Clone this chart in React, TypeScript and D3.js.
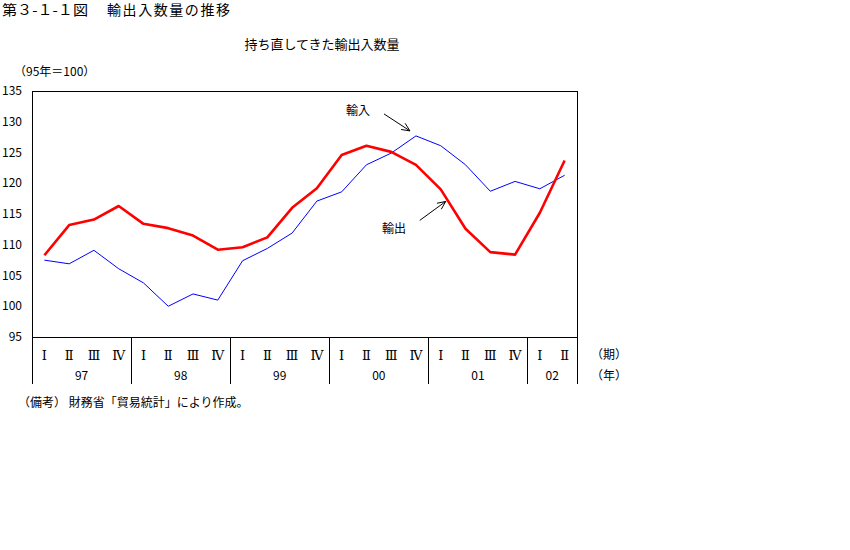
import React from 'react';
import * as d3 from 'd3';

const quarterNames = ['Ⅰ', 'Ⅱ', 'Ⅲ', 'Ⅳ'];
const years = ['97', '98', '99', '00', '01', '02'];
const quartersPerYear = [4, 4, 4, 4, 4, 2];
const exportsVol = [108.3, 113.2, 114.1, 116.3, 113.4, 112.7, 111.5, 109.2, 109.6, 111.2, 116.0, 119.2, 124.6, 126.1, 125.1, 123.0, 119.0, 112.6, 108.8, 108.4, 115.2, 123.7];
const importsVol = [107.5, 106.9, 109.1, 106.1, 103.8, 100.0, 102.0, 101.0, 107.4, 109.4, 111.9, 117.1, 118.6, 123.0, 124.9, 127.7, 126.1, 123.0, 118.7, 120.3, 119.1, 121.3];
const yTicks = [95, 100, 105, 110, 115, 120, 125, 130, 135];

const periods: { key: string; year: string; q: string }[] = [];
years.forEach((y, i) => {
  for (let k = 0; k < quartersPerYear[i]; k++) periods.push({ key: `${y}-${k}`, year: y, q: quarterNames[k] });
});

const FONT = '"Noto Sans CJK JP", sans-serif';

export default function App() {
  const left = 32, right = 577, top = 91, bottom = 337, tableBottom = 384;
  const x = d3.scaleBand<string>().domain(periods.map(p => p.key)).range([left, right]).paddingInner(0).paddingOuter(0);
  const y = d3.scaleLinear().domain([95, 135]).range([bottom, top]);
  const cx = (i: number) => (x(periods[i].key) as number) + x.bandwidth() / 2;
  const line = d3.line<number>().x((_, i) => cx(i)).y(d => y(d));

  const bounds: number[] = [left];
  let idx = 0;
  quartersPerYear.forEach(n => { idx += n; bounds.push(idx < periods.length ? (x(periods[idx].key) as number) : right); });

  const impPeak = 15;
  const expPt = 16;
  const arrow = (x1: number, y1: number, x2: number, y2: number) => {
    const a = Math.atan2(y2 - y1, x2 - x1);
    const L = 9, s = 0.42;
    const p1 = [x2 - L * Math.cos(a - s), y2 - L * Math.sin(a - s)];
    const p2 = [x2 - L * Math.cos(a + s), y2 - L * Math.sin(a + s)];
    return `M${x1},${y1}L${x2},${y2}M${p1[0]},${p1[1]}L${x2},${y2}L${p2[0]},${p2[1]}`;
  };
  const ia = { x2: cx(impPeak) - 6, y2: y(importsVol[impPeak]) - 5 };
  const ea = { x2: cx(expPt) + 5, y2: y(exportsVol[expPt]) + 12 };

  return (
    <svg width={850} height={550} style={{ display: 'block', position: 'absolute', left: 0, top: 0 }} fontFamily={FONT}>
      <rect width={850} height={550} fill="#fff" />
      <text x={2} y={15} fontSize={14} textLength={86} lengthAdjust="spacingAndGlyphs">第３-１-１図</text>
      <text x={107} y={15} fontSize={14} textLength={123} lengthAdjust="spacing">輸出入数量の推移</text>
      <text x={322} y={49} fontSize={13} textAnchor="middle">持ち直してきた輸出入数量</text>
      <text x={14} y={76} fontSize={12}>（95年＝100）</text>

      {yTicks.map(t => (
        <text key={t} x={22} y={y(t)} dy="0.35em" fontSize={12} textAnchor="end">{t}</text>
      ))}

      <g fill="none" stroke="#000" strokeWidth={1} shapeRendering="crispEdges">
        <rect x={left} y={top} width={right - left} height={bottom - top} />
        {bounds.map((b, i) => (
          <line key={i} x1={b} x2={b} y1={bottom} y2={tableBottom} />
        ))}
      </g>

      {periods.map((p, i) => (
        <text key={p.key} x={cx(i)} y={355} dy="0.35em" fontSize={13} textAnchor="middle" fontFamily='"DejaVu Serif", serif'>{p.q}</text>
      ))}
      {years.map((yr, i) => (
        <text key={yr} x={(bounds[i] + bounds[i + 1]) / 2} y={376} dy="0.35em" fontSize={12} textAnchor="middle">{yr}</text>
      ))}
      <text x={591} y={355} dy="0.35em" fontSize={12}>（期）</text>
      <text x={591} y={376} dy="0.35em" fontSize={12}>（年）</text>

      <path d={line(importsVol) || ''} fill="none" stroke="#0000ff" strokeWidth={1} />
      <path d={line(exportsVol) || ''} fill="none" stroke="#ff0000" strokeWidth={2.6} strokeLinejoin="round" />

      <text x={358} y={111} dy="0.35em" fontSize={12} textAnchor="middle">輸入</text>
      <path d={arrow(ia.x2 - 26, ia.y2 - 17, ia.x2, ia.y2)} fill="none" stroke="#000" strokeWidth={1} />
      <text x={394} y={229} dy="0.35em" fontSize={12} textAnchor="middle">輸出</text>
      <path d={arrow(ea.x2 - 26, ea.y2 + 19, ea.x2, ea.y2)} fill="none" stroke="#000" strokeWidth={1} />

      <text x={18} y={403} dy="0.35em" fontSize={12}>（備考） 財務省「貿易統計」により作成。</text>
    </svg>
  );
}
